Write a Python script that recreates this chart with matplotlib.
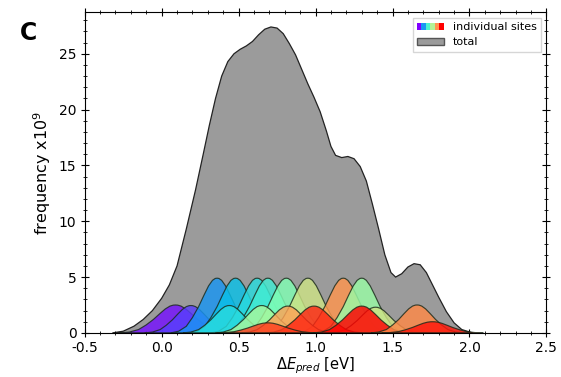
import numpy as np
import matplotlib
matplotlib.use("Agg")
import matplotlib.pyplot as plt
from matplotlib.patches import Patch
from matplotlib.legend_handler import HandlerTuple

plt.rcParams['axes.unicode_minus'] = False

# total distribution, x in eV, y in units of 1e9
total_x = [-0.32, -0.25, -0.18, -0.12, -0.06, 0.00, 0.05, 0.10, 0.16, 0.22, 0.27, 0.31,
           0.35, 0.39, 0.43, 0.47, 0.51, 0.55, 0.59, 0.63, 0.67, 0.71, 0.75, 0.79,
           0.83, 0.87, 0.91, 0.95, 0.99, 1.03, 1.07, 1.10, 1.13, 1.17, 1.21, 1.25,
           1.29, 1.33, 1.37, 1.41, 1.45, 1.49, 1.52, 1.56, 1.60, 1.64, 1.68, 1.72,
           1.76, 1.80, 1.85, 1.90, 1.95, 2.02]
total_y = [0.0, 0.15, 0.6, 1.2, 2.0, 3.1, 4.3, 6.0, 9.3, 12.8, 16.0, 18.6,
           21.0, 23.0, 24.3, 25.0, 25.4, 25.7, 26.1, 26.7, 27.2, 27.4, 27.3, 26.8,
           25.9, 24.9, 23.6, 22.3, 21.1, 19.8, 18.1, 16.7, 15.9, 15.7, 15.8, 15.6,
           14.9, 13.6, 11.5, 9.3, 7.0, 5.4, 5.0, 5.3, 5.9, 6.2, 6.1, 5.4,
           4.3, 3.2, 1.9, 0.9, 0.3, 0.0]

# individual sites: peak position, peak height, colour (position in rainbow map), width
site_center = [0.09, 0.19, 0.36, 0.48, 0.62, 0.69, 0.81, 0.95, 1.18, 1.30,
               0.44, 0.65, 0.82, 1.39, 0.99, 1.30, 1.66, 0.69, 1.76]
site_height = [2.5, 2.45, 4.9, 4.9, 4.9, 4.9, 4.9, 4.9, 4.9, 4.9,
               2.45, 2.45, 2.4, 2.3, 2.4, 2.4, 2.5, 0.9, 1.0]
site_color = [0.02, 0.08, 0.20, 0.27, 0.33, 0.38, 0.50, 0.65, 0.80, 0.55,
              0.33, 0.58, 0.78, 0.65, 0.95, 1.00, 0.82, 0.92, 0.97]
site_width = [1.2, 1.0, 1.0, 1.0, 1.0, 1.0, 1.0, 1.0, 1.0, 1.0,
              1.0, 1.0, 1.0, 1.0, 1.05, 1.05, 1.0, 1.1, 1.1]

# shape of one site peak (offset from centre in eV, fraction of peak height)
profile_dx = [-0.30, -0.25, -0.20, -0.16, -0.12, -0.085, -0.055, -0.03, -0.012, 0.0,
              0.012, 0.03, 0.055, 0.085, 0.12, 0.16, 0.20, 0.25, 0.30]
profile_frac = [0.0, 0.03, 0.12, 0.28, 0.48, 0.69, 0.86, 0.96, 0.995, 1.0,
                0.995, 0.96, 0.86, 0.69, 0.48, 0.28, 0.12, 0.03, 0.0]

fig = plt.figure(figsize=(5.61, 3.77), dpi=100)
ax = fig.add_axes([0.151, 0.117, 0.823, 0.85])

ax.fill(total_x, total_y, facecolor='#9b9b9b', edgecolor='#222222', lw=0.9, zorder=1)

cmap = plt.get_cmap('rainbow')
dx = np.array(profile_dx)
fr = np.array(profile_frac)
for c, h, t, w in zip(site_center, site_height, site_color, site_width):
    ax.fill(c + w * dx, h * fr, facecolor=cmap(t), alpha=0.82,
            edgecolor='#1a2a1a', lw=0.85, zorder=2)

ax.set_xlim(-0.5, 2.5)
ax.set_ylim(0, 28.7)
ax.set_xticks([-0.5, 0.0, 0.5, 1.0, 1.5, 2.0, 2.5])
ax.set_yticks([0, 5, 10, 15, 20, 25])
ax.xaxis.set_minor_locator(matplotlib.ticker.MultipleLocator(0.1))
ax.yaxis.set_minor_locator(matplotlib.ticker.MultipleLocator(1))
ax.tick_params(which='both', direction='inout', top=True, right=True, labelsize=10)
ax.tick_params(which='major', length=6)
ax.tick_params(axis='x', which='major', pad=3)
ax.tick_params(axis='y', which='major', pad=3)
ax.tick_params(which='minor', length=3)

ax.set_xlabel(r'$\Delta E_{pred}$ [eV]', fontsize=10.5, labelpad=0)
ax.set_ylabel(r'frequency x10$^9$', fontsize=11.5, labelpad=4)

rainbow_handle = tuple(Patch(facecolor=cmap(t), edgecolor='none') for t in [0.0, 0.2, 0.4, 0.6, 0.8, 1.0])
total_handle = Patch(facecolor='#9b9b9b', edgecolor='#555555')
ax.legend([rainbow_handle, total_handle], ['individual sites', 'total'],
          handler_map={tuple: HandlerTuple(ndivide=None, pad=0)},
          loc='upper right', fontsize=8, fancybox=False, edgecolor='#cccccc',
          handlelength=2.4, labelspacing=0.45, borderaxespad=0.5)

fig.text(0.035, 0.895, 'C', fontsize=17, fontweight='bold')

fig.savefig('out.png', dpi=100)
